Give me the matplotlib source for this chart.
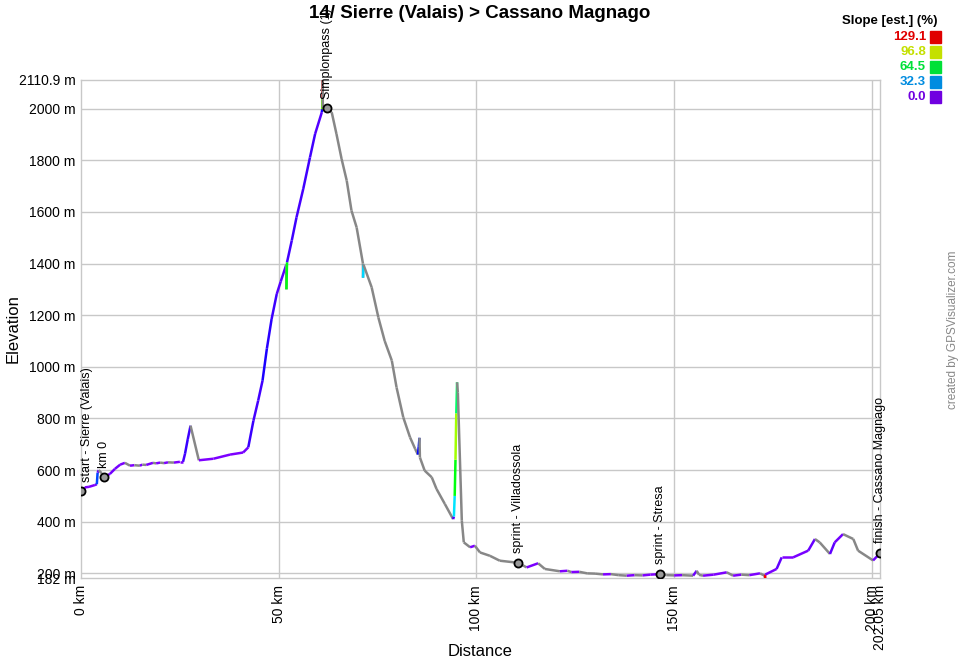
import colorsys
import numpy as np
import matplotlib
matplotlib.use("Agg")
import matplotlib.pyplot as plt
from matplotlib.collections import LineCollection

plt.rcParams['font.family'] = ['Liberation Sans', 'DejaVu Sans']

# Profile (km, m)
dist_km = [0, 1, 2, 3.5, 4.0, 4.2, 4.5, 5.2, 5.8, 7.3, 8.6, 9.9, 11.1, 12.4, 13.5,
           14.9, 15.5, 16.5, 18.2, 19, 20, 21, 22, 23.5, 25, 25.8, 26.3, 27.0, 27.7,
           29.8, 33.5, 37.7, 41, 42.3, 43.6,
           44.8, 45.9, 47.0, 48.2, 49.5, 50.5, 51.9, 51.95, 52.1, 53.3, 54.5, 56.2,
           57.9, 59.2, 60.9, 61.0, 61.05, 61.1, 61.15, 62.1, 63.4, 64.6, 65.9, 67.2,
           68.4, 69.7, 71.3, 71.32, 71.45, 73.5, 75.2, 76.8, 78.6, 79.8, 81.5, 83.2,
           84.5, 85.2, 85.4, 85.6, 85.7, 86.9, 88.7, 89.9, 92, 94.1, 94.3, 94.5,
           94.7, 94.9, 95.1, 95.3, 96.3, 96.8, 98.4, 99.6, 100.9, 103.4, 105.9,
           110.5, 112.7, 115.6, 117.3, 121.1, 123, 124, 126, 128, 130, 132, 134,
           136, 138, 140, 142, 144, 146.4, 148, 150, 152, 154.8, 155.7, 156.3,
           157.3, 160, 163.3, 164.9, 167, 169, 171.7, 172.9, 173.0, 173.01, 175.9,
           177.2, 180.1, 183.9, 185.6, 186.8, 189.4, 190.6, 192.7, 195.3, 196.5,
           200.3, 202.05]
elev_m = [518, 533, 535, 542, 545, 590, 600, 588, 572, 585, 605, 621, 628, 617, 619,
          617, 621, 620, 628, 626, 629, 627, 630, 629, 632, 632, 663, 720, 772,
          638, 644, 660, 668, 688, 791,
          869, 946, 1070, 1185, 1282, 1330, 1395, 1300, 1405, 1489, 1579, 1689,
          1811, 1902, 1986, 1998, 2040, 2110.9, 2002, 2001, 1986, 1902, 1805, 1721,
          1605, 1540, 1400, 1345, 1395, 1308, 1191, 1100, 1024, 920, 804, 727,
          682, 660, 690, 725, 649, 598, 572, 527, 469, 410, 420, 500,
          640, 820, 940, 900, 404, 320, 301, 307, 281, 268, 249,
          241, 223, 239, 217, 208, 210, 205, 206, 200, 199, 196, 197,
          193, 191, 193, 192, 195, 197, 193, 192, 193, 191, 210, 194,
          191, 195, 204, 191, 195, 193, 200, 191, 182, 195, 217,
          262, 262, 288, 333, 320, 275, 320, 352, 333, 288,
          250, 278]

# waypoints
wp_km = [0, 5.8, 62.1, 110.5, 146.4, 202.05]
wp_m = [518, 572, 2001, 241, 197, 278]
wp_names = ["start - Sierre (Valais)", "km 0", "Simplonpass (1)",
            "sprint - Villadossola", "sprint - Stresa", "finish - Cassano Magnago"]

legend_vals = [129.1, 96.8, 64.5, 32.3, 0.0]
SLOPE_MAX = 129.1


def slope_color(s, v=0.88):
    s = min(max(s, 0), SLOPE_MAX)
    h = (270.0 / 360.0) * (1 - s / SLOPE_MAX)
    return colorsys.hsv_to_rgb(h, 1.0, v)


x = np.array(dist_km)
y = np.array(elev_m)
segs = np.stack([np.column_stack([x[:-1], y[:-1]]), np.column_stack([x[1:], y[1:]])], axis=1)
slopes = np.diff(y) / (np.diff(x) * 1000) * 100
colors = [slope_color(s, 1.0) if s >= 0 else (0.53, 0.53, 0.53) for s in slopes]

fig = plt.figure(figsize=(9.6, 6.6), dpi=100)
ax = fig.add_axes([81 / 960, 1 - 578 / 660, 799 / 960, 498 / 660])

ax.add_collection(LineCollection(segs, colors=colors, linewidths=1.8, capstyle='butt', zorder=3))

ax.set_xlim(0, 202.05)
ax.set_ylim(182, 2110.9)

xt = [0, 50, 100, 150, 200, 202.05]
ax.set_xticks(xt)
ax.set_xticklabels(["0 km", "50 km", "100 km", "150 km", "200 km", "202.05 km"],
                   rotation=90, fontsize=10)
yt = [182, 200, 400, 600, 800, 1000, 1200, 1400, 1600, 1800, 2000, 2110.9]
ax.set_yticks(yt)
ax.set_yticklabels(["182 m", "200 m", "400 m", "600 m", "800 m", "1000 m", "1200 m",
                    "1400 m", "1600 m", "1800 m", "2000 m", "2110.9 m"], fontsize=10)
ax.tick_params(length=0, pad=4)
ax.tick_params(axis='x', pad=5)

for v in [50, 100, 150, 200]:
    ax.axvline(v, color='#c8c8c8', lw=1, zorder=1)
for v in [200, 400, 600, 800, 1000, 1200, 1400, 1600, 1800, 2000]:
    ax.axhline(v, color='#c8c8c8', lw=1, zorder=1)
for sp in ax.spines.values():
    sp.set_color('#c8c8c8')
    sp.set_linewidth(1)

# waypoints
ax.scatter(wp_km, wp_m, s=34, facecolor='#999999', edgecolor='black', linewidth=1.3, zorder=5)
for i, (k, m, n) in enumerate(zip(wp_km, wp_m, wp_names)):
    dx = 4 if i == 0 else 0
    ax.annotate(n, (k, m), xytext=(dx, 7), textcoords='offset points', rotation=90,
                ha='center', va='bottom', fontsize=9, annotation_clip=False, zorder=6)

ax.set_xlabel("Distance", fontsize=12)
ax.set_ylabel("Elevation", fontsize=12)
ax.xaxis.set_label_coords(0.5, -0.133)
ax.yaxis.set_label_coords(-0.076, 0.5)

fig.text(0.5, 1 - 13 / 660, "14/ Sierre (Valais) > Cassano Magnago", ha='center', va='center',
         fontsize=13.5, fontweight='bold', zorder=10)

# slope legend
fig.text(937 / 960, 1 - 21 / 660, "Slope [est.] (%)", ha='right', va='center',
         fontsize=9.5, fontweight='bold')
for i, v in enumerate(legend_vals):
    yy = 37 + i * 15
    c = slope_color(v)
    fig.text(926 / 960, 1 - yy / 660, f"{v:.1f}", ha='right', va='center', fontsize=9.5,
             fontweight='bold', color=c)
    fig.patches.append(plt.Rectangle((930 / 960, 1 - (yy + 6) / 660), 11 / 960, 12 / 660,
                                     transform=fig.transFigure, color=c))

fig.text(953 / 960, 1 - 330 / 660, "created by GPSVisualizer.com", rotation=90,
         ha='center', va='center', fontsize=8.5, color='#888888')

fig.savefig("out.png", dpi=100)
